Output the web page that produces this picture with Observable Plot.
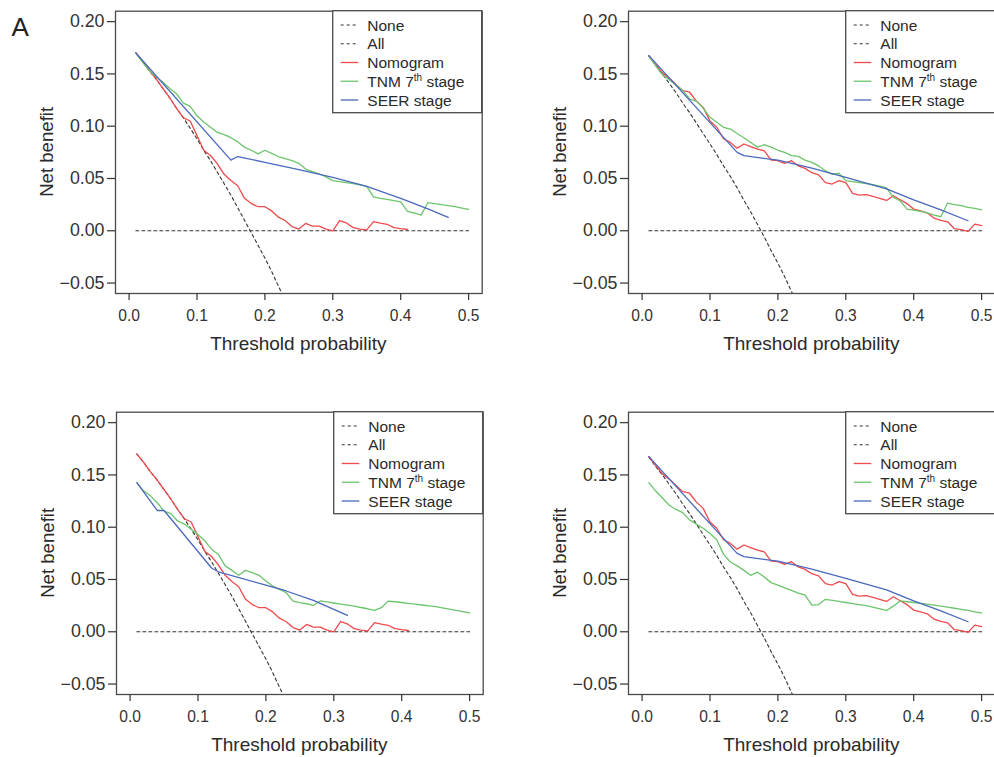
<!DOCTYPE html>
<html><head><meta charset="utf-8">
<script src="https://cdn.jsdelivr.net/npm/d3@7"></script>
<script src="https://cdn.jsdelivr.net/npm/@observablehq/plot@0.6"></script>
<style>
html,body{margin:0;padding:0;background:#fff;overflow:hidden;}
#wrap{position:relative;width:994px;height:757px;overflow:hidden;background:#fff;}
.panel{position:absolute;width:497px;height:380px;}
</style></head><body><div id="wrap"></div>
<script>
// ---------- data ----------
const pt = [0.01,0.02,0.03,0.04,0.05,0.06,0.07,0.08,0.09,0.10,0.11,0.12,0.13,0.14,0.15,0.16,0.17,0.18,0.19,0.20,0.21,0.22,0.23,0.24,0.25,0.26,0.27,0.28,0.29,0.30,0.31,0.32,0.33,0.34,0.35,0.36,0.37,0.38,0.39,0.40,0.41,0.42,0.43,0.44,0.45,0.46,0.47,0.48,0.49,0.50];

const noneX = [0.01, 0.50];
const noneY = [0, 0];

const allA = [0.170,0.162,0.153,0.145,0.136,0.127,0.117,0.108,0.098,0.088,0.077,0.067,0.056,0.045,0.034,0.022,0.010,-0.002,-0.014,-0.026,-0.039,-0.053,-0.067];
const allB = [0.167,0.158,0.150,0.141,0.132,0.122,0.113,0.103,0.093,0.083,0.073,0.062,0.052,0.041,0.029,0.018,0.006,-0.006,-0.019,-0.031,-0.044,-0.058,-0.072];

const nomogramA = [0.170,0.162,0.153,0.145,0.136,0.127,0.117,0.108,0.105,0.091,0.077,0.072,0.064,0.054,0.048,0.043,0.031,0.026,0.023,0.023,0.019,0.013,0.0096,0.004,0.0016,0.007,0.0045,0.0045,0.0016,0.000,0.0098,0.0075,0.003,0.0016,0.0008,0.0088,0.0074,0.0062,0.003,0.002,0.0012];
const nomogramB = [0.1675,0.159,0.151,0.146,0.140,0.134,0.1325,0.124,0.118,0.105,0.099,0.088,0.0845,0.079,0.083,0.0805,0.078,0.0765,0.0676,0.067,0.0644,0.067,0.062,0.0597,0.0555,0.0535,0.046,0.0447,0.048,0.046,0.0357,0.034,0.0345,0.033,0.031,0.029,0.0335,0.0297,0.026,0.0207,0.019,0.0172,0.012,0.010,0.0086,0.002,0.001,-0.0006,0.0064,0.005];

const tnmA = [0.170,0.161,0.153,0.147,0.142,0.136,0.131,0.122,0.119,0.110,0.104,0.099,0.094,0.092,0.089,0.085,0.080,0.077,0.0735,0.077,0.074,0.071,0.069,0.067,0.0645,0.059,0.0565,0.0545,0.0515,0.048,0.047,0.046,0.045,0.044,0.0425,0.0325,0.031,0.030,0.0288,0.0277,0.0185,0.017,0.015,0.027,0.026,0.025,0.024,0.023,0.0217,0.0204];
const tnmB = [0.1675,0.158,0.149,0.1445,0.1395,0.134,0.126,0.124,0.1174,0.1085,0.1037,0.099,0.0973,0.093,0.089,0.0845,0.080,0.0823,0.080,0.077,0.075,0.0718,0.0711,0.0676,0.0654,0.062,0.0574,0.054,0.055,0.048,0.047,0.046,0.045,0.044,0.0427,0.041,0.032,0.0287,0.0207,0.0198,0.0185,0.0172,0.015,0.0134,0.0265,0.025,0.024,0.0223,0.0214,0.020];
const tnmC = [0.1426,0.1346,0.130,0.1234,0.1155,0.113,0.106,0.103,0.098,0.093,0.087,0.079,0.074,0.063,0.0587,0.054,0.0587,0.0565,0.054,0.0485,0.0437,0.0405,0.0373,0.0293,0.0278,0.0268,0.0252,0.0295,0.0285,0.0275,0.0265,0.0255,0.0245,0.0232,0.022,0.0204,0.023,0.0293,0.0287,0.028,0.0272,0.0264,0.0256,0.0248,0.024,0.0228,0.0216,0.0204,0.0192,0.018];
const tnmD = [0.1426,0.1346,0.128,0.121,0.117,0.114,0.107,0.103,0.099,0.094,0.088,0.074,0.0667,0.063,0.0587,0.054,0.057,0.0523,0.047,0.0447,0.042,0.0395,0.037,0.035,0.0255,0.026,0.031,0.030,0.029,0.028,0.027,0.026,0.025,0.0235,0.022,0.0204,0.0245,0.0295,0.0287,0.028,0.0272,0.0265,0.0255,0.0245,0.0235,0.0225,0.0215,0.0205,0.019,0.018];

const seerXA = [0.01,0.15,0.16,0.20,0.25,0.30,0.35,0.40,0.44,0.47];
const seerYA = [0.170,0.0676,0.071,0.0655,0.0585,0.051,0.0424,0.031,0.021,0.0128];
const seerXB = [0.01,0.14,0.15,0.20,0.25,0.30,0.36,0.40,0.44,0.48];
const seerYB = [0.1675,0.075,0.0718,0.0676,0.060,0.051,0.040,0.0295,0.020,0.0096];
const seerXC = [0.01,0.04,0.05,0.12,0.13,0.20,0.23,0.27,0.32];
const seerYC = [0.1426,0.116,0.116,0.061,0.0574,0.0445,0.039,0.030,0.0156];

const xTicks = [0, 0.1, 0.2, 0.3, 0.4, 0.5];
const xTickLabels = ["0.0","0.1","0.2","0.3","0.4","0.5"];
const yTicks = [-0.05, 0, 0.05, 0.10, 0.15, 0.20];
const yTickLabels = ["\u22120.05","0.00","0.05","0.10","0.15","0.20"];

const legendLabels = ["None","All","Nomogram","TNM 7th stage","SEER stage"];
const colors = {nomo:"#f04a4d", tnm:"#6cc56c", seer:"#4a68bd", ref:"#333333"};

// ---------- drawing ----------
const FONT = "'Liberation Sans', Arial, Helvetica, sans-serif";
const W = 497, H = 380, ML = 115, MR = 15.3, MT = 10.7, MB = 87;
const toPts = (xs, ys) => ys.map((v, i) => ({x: xs[i], y: v}));

const panels = [
  {left: 0,   top: 0,   all: allA, nomo: nomogramA, tnm: tnmA, sx: seerXA, sy: seerYA, tag: "A"},
  {left: 513, top: 0,   all: allB, nomo: nomogramB, tnm: tnmB, sx: seerXB, sy: seerYB},
  {left: 1.3, top: 401, all: allA, nomo: nomogramA, tnm: tnmC, sx: seerXC, sy: seerYC},
  {left: 513, top: 401, all: allB, nomo: nomogramB, tnm: tnmD, sx: seerXB, sy: seerYB}
];

const wrap = document.getElementById("wrap");

for (const cfg of panels) {
  const lw = 1.3;
  const plot = Plot.plot({
    width: W, height: H,
    marginLeft: ML, marginRight: MR, marginTop: MT, marginBottom: MB,
    x: {domain: [-0.02, 0.52], label: null},
    y: {domain: [-0.06, 0.21], label: null},
    style: {fontFamily: FONT, background: "transparent", color: "#333"},
    marks: [
      Plot.line(toPts(noneX, noneY), {x: "x", y: "y", stroke: colors.ref, strokeWidth: 1.1, strokeDasharray: "3,3"}),
      Plot.line(toPts(pt, cfg.all), {x: "x", y: "y", stroke: colors.ref, strokeWidth: 1.1, strokeDasharray: "3,3", clip: true}),
      Plot.line(toPts(pt, cfg.nomo), {x: "x", y: "y", stroke: colors.nomo, strokeWidth: lw}),
      Plot.line(toPts(pt, cfg.tnm), {x: "x", y: "y", stroke: colors.tnm, strokeWidth: lw}),
      Plot.line(toPts(cfg.sx, cfg.sy), {x: "x", y: "y", stroke: colors.seer, strokeWidth: lw}),
      Plot.frame({stroke: "#4a4a4a", strokeWidth: 1.3}),
      Plot.axisX({ticks: xTicks, tickFormat: d => xTickLabels[xTicks.indexOf(d)], tickSize: 7, tickPadding: 9, fontSize: 15.6, label: null, color: "#333", strokeWidth: 1.2}),
      Plot.axisY({ticks: yTicks, tickFormat: d => yTickLabels[yTicks.indexOf(d)], tickSize: 8, tickPadding: 3, fontSize: 17.8, label: null, color: "#333", strokeWidth: 1.2})
    ]
  });
  const div = document.createElement("div");
  div.className = "panel";
  div.style.left = cfg.left + "px";
  div.style.top = cfg.top + "px";
  div.appendChild(plot);
  wrap.appendChild(div);

  const svg = d3.select(plot);
  const bx0 = ML, bx1 = W - MR, by0 = MT, by1 = H - MB;

  // axis titles
  svg.append("text").attr("x", (bx0 + bx1) / 2).attr("y", by1 + 57)
    .attr("text-anchor", "middle").attr("font-size", 19).attr("fill", "#2a2a2a")
    .attr("font-family", FONT).text("Threshold probability");
  const cy = (by0 + by1) / 2;
  svg.append("text").attr("x", 53).attr("y", cy)
    .attr("transform", `rotate(-90,53,${cy})`)
    .attr("text-anchor", "middle").attr("font-size", 18.6).attr("fill", "#2a2a2a")
    .attr("font-family", FONT).text("Net benefit");

  if (cfg.tag) {
    svg.append("text").attr("x", 11.5).attr("y", 36).attr("font-size", 26)
      .attr("text-anchor", "start")
      .attr("fill", "#222").attr("font-family", FONT).text(cfg.tag);
  }

  // legend (topright, like R's legend())
  const lgW = 149, lgH = 102;
  const lg = svg.append("g").attr("font-family", FONT).attr("font-size", 15.5)
    .attr("fill", "#2a2a2a").attr("text-anchor", "start");
  lg.append("rect").attr("x", bx1 - lgW).attr("y", by0).attr("width", lgW).attr("height", lgH)
    .attr("fill", "#fff").attr("stroke", "#4a4a4a").attr("stroke-width", 1.3);
  const styles = [
    {stroke: colors.ref, dash: "3,3"},
    {stroke: colors.ref, dash: "3,3"},
    {stroke: colors.nomo, dash: null},
    {stroke: colors.tnm, dash: null},
    {stroke: colors.seer, dash: null}
  ];
  legendLabels.forEach((lab, i) => {
    const yy = by0 + 14.3 + i * 18.75;
    const ln = lg.append("line").attr("x1", bx1 - lgW + 8).attr("x2", bx1 - lgW + 25.6)
      .attr("y1", yy).attr("y2", yy).attr("stroke", styles[i].stroke).attr("stroke-width", styles[i].dash ? 1.1 : 1.3);
    if (styles[i].dash) ln.attr("stroke-dasharray", styles[i].dash);
    const t = lg.append("text").attr("x", bx1 - lgW + 34.6).attr("y", yy + 5.5)
      .attr("text-anchor", "start");
    if (lab === "TNM 7th stage") {
      t.append("tspan").text("TNM 7");
      t.append("tspan").attr("font-size", 10).attr("dy", -6).text("th");
      t.append("tspan").attr("dy", 6).text(" stage");
    } else {
      t.text(lab);
    }
  });
}
</script></body></html>
